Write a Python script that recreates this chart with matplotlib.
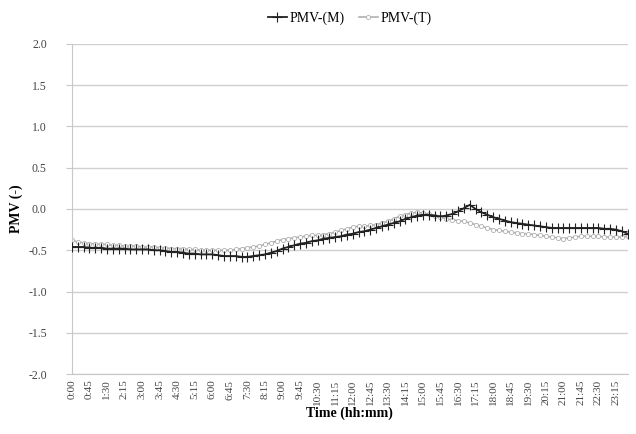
import matplotlib
matplotlib.use("Agg")
import matplotlib.pyplot as plt
import numpy as np

# PMV every 15 min over one day (96 values)
pmv_m = [-0.46, -0.46, -0.46, -0.47, -0.47, -0.47, -0.48, -0.48, -0.48, -0.48, -0.49, -0.49,
         -0.49, -0.49, -0.50, -0.50, -0.51, -0.52, -0.52, -0.53, -0.54, -0.54, -0.55, -0.55,
         -0.55, -0.56, -0.57, -0.57, -0.57, -0.58, -0.58, -0.57, -0.56, -0.55, -0.53, -0.51,
         -0.48, -0.46, -0.44, -0.42, -0.41, -0.39, -0.38, -0.36, -0.35, -0.34, -0.33, -0.31,
         -0.30, -0.28, -0.27, -0.25, -0.23, -0.21, -0.19, -0.17, -0.15, -0.12, -0.10, -0.08,
         -0.07, -0.07, -0.08, -0.09, -0.08, -0.06, -0.03, 0.01, 0.05, 0.00, -0.04, -0.07,
         -0.10, -0.12, -0.14, -0.16, -0.17, -0.18, -0.19, -0.20, -0.21, -0.22, -0.23, -0.23,
         -0.23, -0.23, -0.23, -0.23, -0.23, -0.23, -0.23, -0.24, -0.24, -0.25, -0.27, -0.30]
pmv_t = [-0.38, -0.40, -0.41, -0.42, -0.42, -0.43, -0.43, -0.44, -0.44, -0.45, -0.45, -0.45,
         -0.46, -0.46, -0.46, -0.47, -0.47, -0.48, -0.48, -0.48, -0.49, -0.49, -0.50, -0.50,
         -0.50, -0.50, -0.50, -0.50, -0.49, -0.48, -0.47, -0.46, -0.45, -0.43, -0.41, -0.39,
         -0.37, -0.36, -0.35, -0.34, -0.33, -0.32, -0.32, -0.31, -0.30, -0.28, -0.26, -0.24,
         -0.22, -0.21, -0.21, -0.20, -0.19, -0.17, -0.15, -0.12, -0.09, -0.07, -0.05, -0.04,
         -0.05, -0.06, -0.08, -0.10, -0.12, -0.13, -0.14, -0.15, -0.17, -0.19, -0.21, -0.23,
         -0.25, -0.26, -0.27, -0.28, -0.29, -0.30, -0.30, -0.31, -0.32, -0.33, -0.34, -0.35,
         -0.36, -0.35, -0.34, -0.33, -0.33, -0.33, -0.33, -0.34, -0.34, -0.34, -0.34, -0.33]
times = ["%d:%02d" % (i // 4, (i % 4) * 15) for i in range(96)]

plt.rcParams['font.family'] = ['Liberation Serif', 'DejaVu Serif']

fig = plt.figure(figsize=(6.36, 4.34), dpi=100)
ax = fig.add_axes([0.113, 0.138, 0.874, 0.761])

x = np.arange(len(times))
ax.plot(x, pmv_m, color='#222222', lw=1.3, marker='+', ms=7, mew=0.8, label='PMV-(M)', zorder=3)
ax.plot(x, pmv_t, color='#b0b0b0', lw=1.2, marker='o', ms=3, mfc='white', mew=0.6,
        label='PMV-(T)', zorder=2)

ax.set_xlim(0, 95)
ax.set_ylim(-2.0, 2.0)
ax.set_yticks(np.arange(-2.0, 2.01, 0.5))
ax.set_yticklabels(["%.1f" % v for v in np.arange(-2.0, 2.01, 0.5)], fontsize=8.5, color='#444444')
ax.set_xticks(x[::3])
ax.set_xticklabels(times[::3], rotation=90, fontsize=8, color='#444444')
ax.yaxis.grid(True, color='#d0d0d0', lw=1)
ax.set_axisbelow(True)
for s in ['top', 'right']:
    ax.spines[s].set_visible(False)
ax.spines['left'].set_color('#c8c8c8')
ax.spines['bottom'].set_color('#c8c8c8')
ax.tick_params(axis='x', length=0, pad=4)
ax.tick_params(axis='y', length=4, color='#c8c8c8', pad=14)

ax.set_ylabel('PMV (-)', fontsize=10, fontweight='bold', labelpad=4)
ax.set_xlabel('Time (hh:mm)', fontsize=10, fontweight='bold', labelpad=1)
ax.legend(loc='lower center', bbox_to_anchor=(0.5, 1.02), ncol=2, frameon=False,
          fontsize=10, handlelength=1.4, handletextpad=0.2, columnspacing=1.0)

fig.savefig('out.png', dpi=100)
